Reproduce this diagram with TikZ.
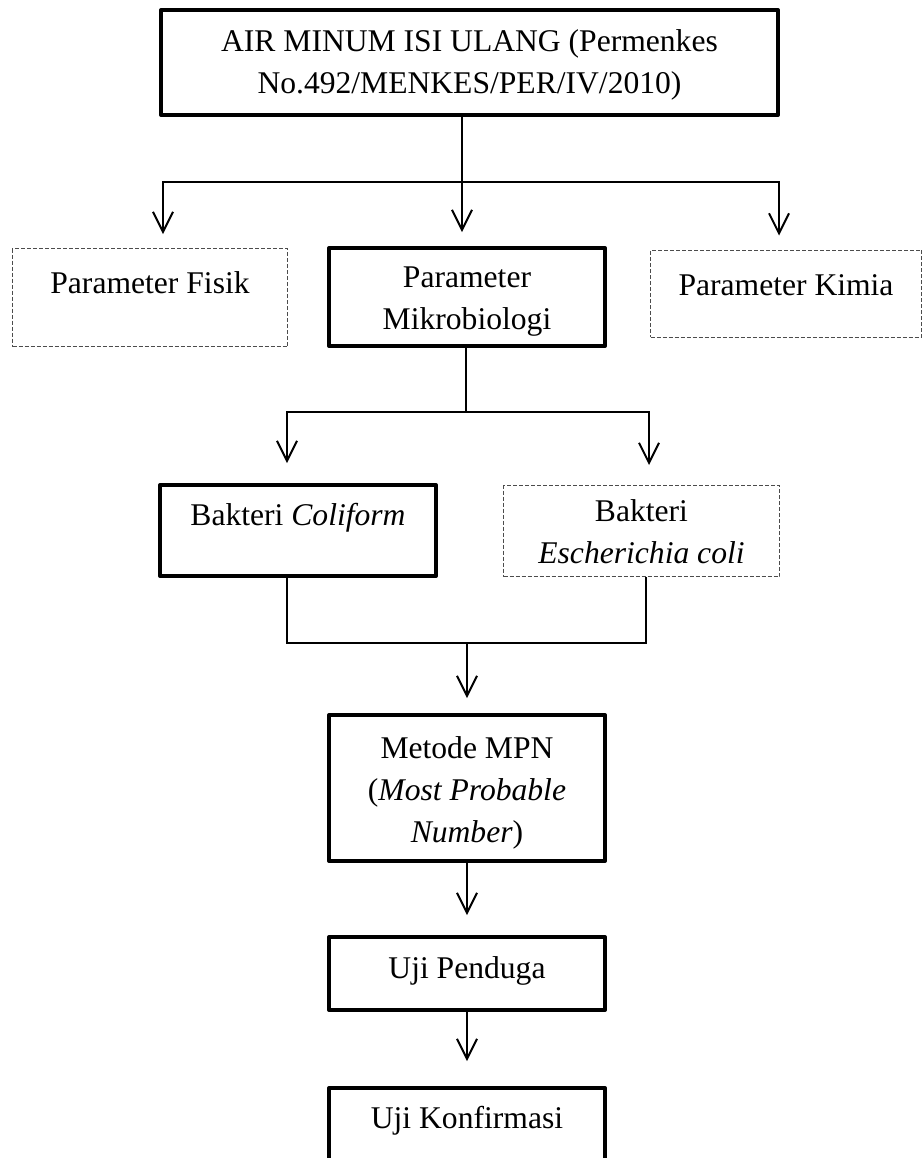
\documentclass[tikz,border=0pt]{standalone}
\usepackage{fontspec}
\setmainfont{Liberation Serif}
\usepackage{tikz}
\usetikzlibrary{arrows.meta}

\begin{document}
\begin{tikzpicture}[x=0.5pt, y=-0.5pt,
		font=\fontsize{15.8pt}{21pt}\selectfont,
		thickbox/.style={draw, line width=2pt, line join=round, inner sep=0pt, align=center},
		dashbox/.style={draw=black!70, line width=0.5pt, dash pattern=on 2pt off 1pt, inner sep=0pt, align=center},
		conn/.style={line width=1pt},
		arr/.style={line width=1pt, -{Straight Barb[length=10pt, width=10pt]}, shorten >=7pt}]
		\useasboundingbox (0, 0) rectangle (924, 1158);
		\clip (0, 0) rectangle (924, 1158);
		%
		\node[thickbox, anchor=base, minimum width=308.5pt, text height=41.5pt, text depth=11pt] (air) at (469.5, 93) {AIR MINUM ISI ULANG (Permenkes\\No.492/MENKES/PER/IV/2010)};
		%% Parameters
		\node[dashbox, anchor=base, minimum width=137.5pt, text height=22.25pt, text depth=26.75pt] (fisik) at (150, 293) {Parameter Fisik};
		\node[thickbox, anchor=base, minimum width=138pt, text height=40.5pt, text depth=8.5pt] (mikro) at (467, 329) {Parameter\\Mikrobiologi};
		\node[dashbox, anchor=base, minimum width=135.5pt, text height=22.5pt, text depth=21pt] (kimia) at (786, 295) {Parameter Kimia};
		%% Bacteria
		\node[thickbox, anchor=base, minimum width=138pt, text height=20pt, text depth=25.5pt] (coliform) at (298, 525) {Bakteri \textit{Coliform}};
		\node[dashbox, anchor=base, minimum width=138pt, text height=38.75pt, text depth=6.75pt] (ecoli) at (641.5, 563) {Bakteri\\\textit{Escherichia coli}};
		%% Method and tests
		\node[thickbox, anchor=base, minimum width=138pt, text height=63.5pt, text depth=9.5pt] (mpn) at (467, 842) {Metode MPN\\(\textit{Most Probable}\\\textit{Number})};
		\node[thickbox, anchor=base, minimum width=138pt, text height=20.5pt, text depth=16pt] (penduga) at (467, 978) {Uji Penduga};
		\node[thickbox, anchor=base, minimum width=138pt, text height=20pt, text depth=26pt] (konfirmasi) at (467, 1128) {Uji Konfirmasi};
		%
		\coordinate (t1) at (462, 182); \coordinate (t1l) at (163, 182);
		\coordinate (t1r) at (779, 182);
		\coordinate (t2) at (466, 412); \coordinate (t2l) at (287, 412);
		\coordinate (t2r) at (649, 412);
		\coordinate (t3) at (467, 643); \coordinate (t3l) at (287, 643);
		\coordinate (t3r) at (646, 643);
		% Drawing the edges
		\draw[arr] (air.south -| t1) -- (t1 |- mikro.north);
		\draw[arr] (t1) -| (t1l |- fisik.north);
		\draw[arr] (t1) -| (t1r |- kimia.north);
		%
		\draw[conn] (mikro.south -| t2) -- (t2);
		\draw[arr, shorten >=10pt] (t2) -| (t2l |- coliform.north);
		\draw[arr, shorten >=10pt] (t2) -| (t2r |- ecoli.north);
		%
		\draw[conn] (coliform.south -| t3l) |- (t3r) -- (ecoli.south -| t3r);
		\draw[arr, shorten >=7.5pt] (t3) -- (mpn.north);
		\draw[arr, shorten >=10pt] (mpn) -- (penduga);
		\draw[arr, shorten >=12.5pt] (penduga) -- (konfirmasi);
	\end{tikzpicture}
\end{document}
